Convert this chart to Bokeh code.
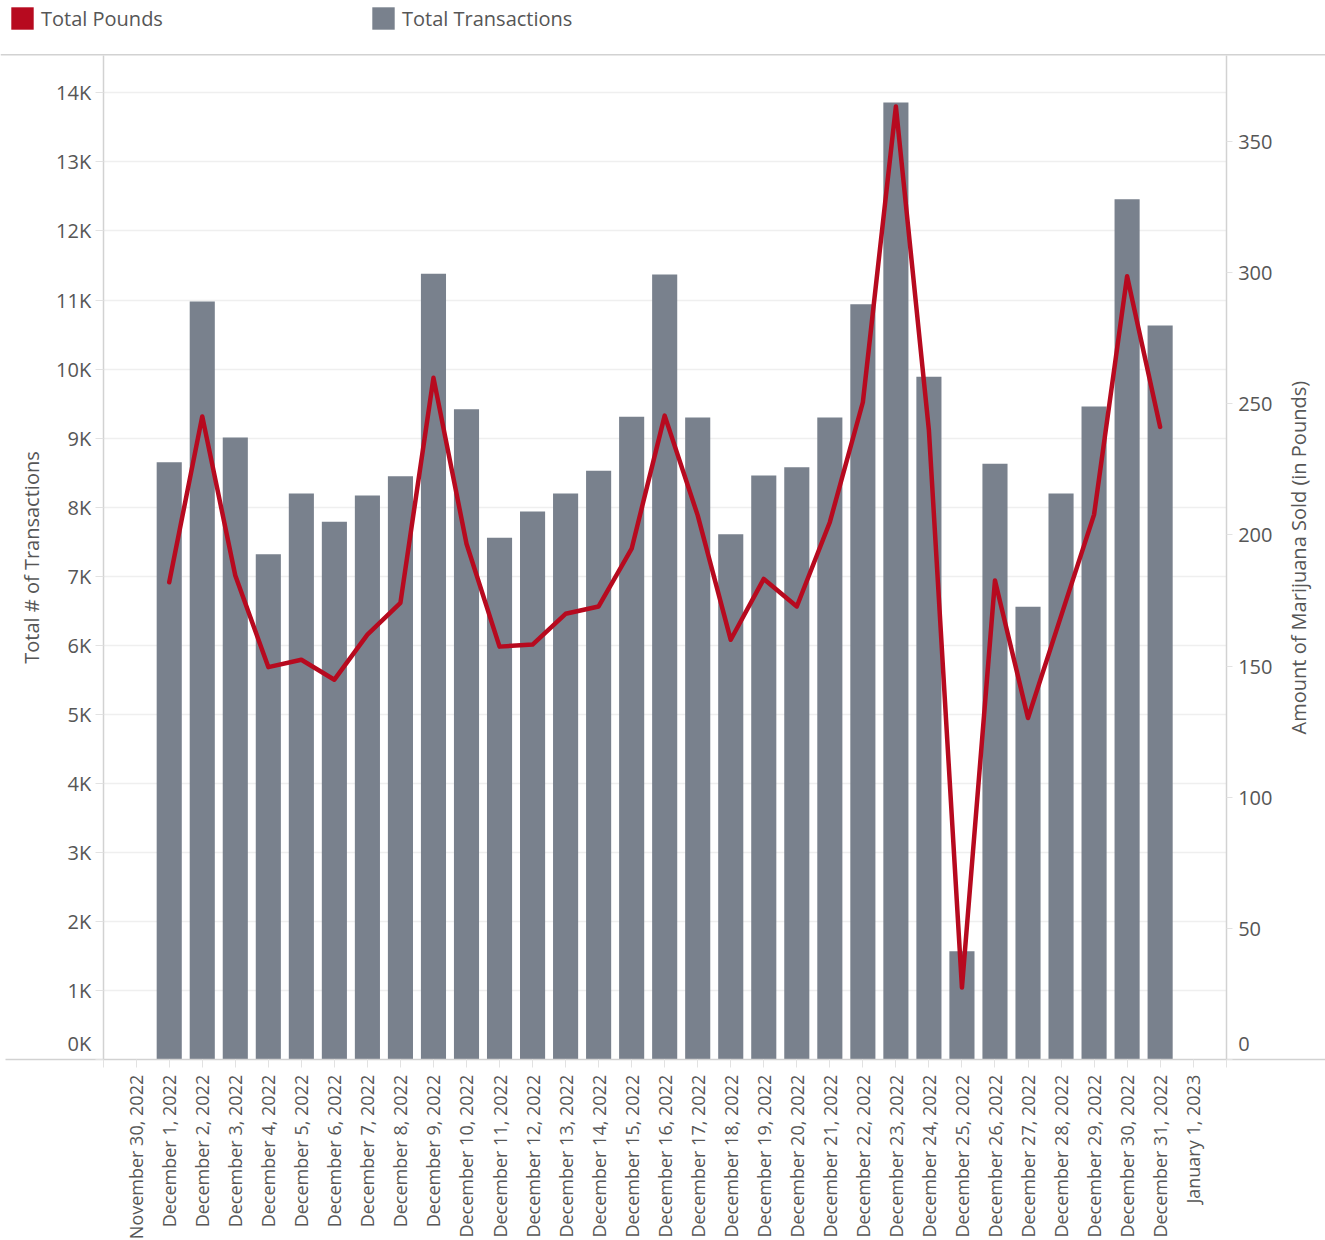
import math
from bokeh.plotting import figure
from bokeh.models import (LinearAxis, Range1d, FixedTicker, Legend, LegendItem,
                          Span, Label, Grid, ColumnDataSource)
from bokeh.embed import file_html
from bokeh.resources import INLINE

# ---------------- data ----------------
tick_labels = [
    "November 30, 2022",
    "December 1, 2022", "December 2, 2022", "December 3, 2022", "December 4, 2022",
    "December 5, 2022", "December 6, 2022", "December 7, 2022", "December 8, 2022",
    "December 9, 2022", "December 10, 2022", "December 11, 2022", "December 12, 2022",
    "December 13, 2022", "December 14, 2022", "December 15, 2022", "December 16, 2022",
    "December 17, 2022", "December 18, 2022", "December 19, 2022", "December 20, 2022",
    "December 21, 2022", "December 22, 2022", "December 23, 2022", "December 24, 2022",
    "December 25, 2022", "December 26, 2022", "December 27, 2022", "December 28, 2022",
    "December 29, 2022", "December 30, 2022", "December 31, 2022",
    "January 1, 2023",
]
# values for December 1 .. December 31
total_transactions = [
    8650, 10980, 9010, 7320, 8200, 7790, 8170, 8450, 11380, 9420,
    7560, 7940, 8200, 8530, 9310, 11370, 9300, 7610, 8460, 8580,
    9300, 10940, 13860, 9890, 1570, 8630, 6560, 8200, 9460, 12460,
    10630,
]
total_pounds = [
    181.9, 245.1, 184.5, 149.6, 152.4, 144.8, 162.0, 174.1, 259.8, 196.6,
    157.4, 158.2, 169.9, 172.7, 194.7, 245.4, 207.4, 160.0, 183.2, 172.7,
    204.8, 250.5, 363.2, 239.7, 27.5, 182.6, 130.2, 169.0, 207.7, 298.5,
    241.1,
]
left_ticks = [0, 1000, 2000, 3000, 4000, 5000, 6000, 7000, 8000, 9000,
              10000, 11000, 12000, 13000, 14000]
left_tick_labels = ["0K", "1K", "2K", "3K", "4K", "5K", "6K", "7K", "8K", "9K",
                    "10K", "11K", "12K", "13K", "14K"]
right_ticks = [0, 50, 100, 150, 200, 250, 300, 350]
series_names = ["Total Pounds", "Total Transactions"]
left_title = "Total # of Transactions"
right_title = "Amount of Marijuana Sold (in Pounds)"

# ---------------- layout / style ----------------
W, H = 1325, 1240
RED = "#B70A1F"
BAR = "#79818D"
AXIS_LINE = "#d2d2d2"
GRID = "#efefef"
TICK = "#e2e2e2"
TXT = "#565656"
FONT = "Open Sans"

# pixel geometry of the plotting pane (page pixels)
X0_PX, PX_PER_IDX = 135.7, 33.03       # centre of first category, category pitch
Y0_PX = 1059.3                          # baseline (value 0) of both y axes
PX_PER_T = 69.07 / 1000.0               # left axis scale
PX_PER_LB = 2.625                       # right axis scale
PANE_TOP_PX = 55.0


def px_to_x(px):
    return (px - X0_PX) / PX_PER_IDX


def py_to_left(py):
    return (Y0_PX - py) / PX_PER_T


def py_to_right(py):
    return (Y0_PX - py) / PX_PER_LB


n_dec = len(total_transactions)
x_pos = list(range(1, n_dec + 1))
src = ColumnDataSource(dict(x=x_pos, transactions=total_transactions, pounds=total_pounds))

x_first, x_last = -1, len(tick_labels)          # pane edges in category units
left_top = py_to_left(PANE_TOP_PX)
right_top = py_to_right(PANE_TOP_PX)

p = figure(width=W, height=H, output_backend="svg", toolbar_location=None,
           x_range=Range1d(px_to_x(0), px_to_x(W)),
           y_range=Range1d(py_to_left(H), py_to_left(0)),
           x_axis_type=None, y_axis_type=None, min_border=0)
p.extra_y_ranges = {"pounds": Range1d(py_to_right(H), py_to_right(0))}
p.outline_line_color = None
p.background_fill_color = "white"
p.border_fill_color = "white"

# ---- grid lines (only inside the pane) ----
use_grid = "cross_bounds" in Grid.properties()
if use_grid:
    g = Grid(dimension=1, ticker=FixedTicker(ticks=left_ticks[1:]),
             cross_bounds=(x_first, x_last), grid_line_color=GRID, grid_line_width=1.5)
    p.add_layout(g)
else:
    p.segment(x0=[x_first] * (len(left_ticks) - 1), x1=[x_last] * (len(left_ticks) - 1),
              y0=left_ticks[1:], y1=left_ticks[1:], line_color=GRID, line_width=1.5,
              level="underlay")

bars = p.vbar(x="x", top="transactions", width=0.76, source=src,
              fill_color=BAR, line_color=None)
line = p.line(x="x", y="pounds", source=src, y_range_name="pounds",
              line_color=RED, line_width=4.5, line_join="round", line_cap="round")
# zero-height proxy so the legend can show a red swatch
red_proxy = p.vbar(x=x_pos[:1], top=[0], width=0, fill_color=RED, line_color=None)

# ---- x axis ----
xa = LinearAxis(fixed_location=0, bounds=(px_to_x(5), px_to_x(W)),
                ticker=FixedTicker(ticks=list(range(x_first, x_last + 1))))
overrides = {x_first: "", x_last: ""}
for i, lab in enumerate(tick_labels):
    overrides[i] = lab
xa.major_label_overrides = overrides
xa.major_label_orientation = math.pi / 2
xa.major_label_text_font = FONT
xa.major_label_text_font_size = "18px"
xa.major_label_text_color = TXT
xa.major_tick_out = 8
xa.major_tick_in = 0
xa.major_label_standoff = 7
xa.minor_tick_line_color = None
xa.major_tick_line_color = TICK
xa.axis_line_color = AXIS_LINE
xa.axis_line_width = 1.5
p.add_layout(xa, "below")

# ---- left axis ----
ya = LinearAxis(fixed_location=x_first, bounds=(0, left_top),
                ticker=FixedTicker(ticks=left_ticks))
lov = {t: l for t, l in zip(left_ticks, left_tick_labels)}
lov[left_ticks[0]] = left_tick_labels[0] + "\n "
ya.major_label_overrides = lov
ya.axis_label = left_title
ya.axis_label_text_font = FONT
ya.axis_label_text_font_size = "20px"
ya.axis_label_text_font_style = "normal"
ya.axis_label_text_color = TXT
ya.axis_label_standoff = 8
ya.major_label_text_font = FONT
ya.major_label_text_font_size = "20px"
ya.major_label_text_color = TXT
ya.major_tick_out = 8
ya.major_tick_in = 0
ya.major_label_standoff = 4
ya.minor_tick_line_color = None
ya.major_tick_line_color = TICK
ya.axis_line_color = AXIS_LINE
ya.axis_line_width = 1.5
p.add_layout(ya, "left")

# ---- right axis ----
ra = LinearAxis(y_range_name="pounds", fixed_location=x_last, bounds=(0, right_top),
                ticker=FixedTicker(ticks=right_ticks))
ra.major_label_overrides = {right_ticks[0]: str(right_ticks[0]) + "\n "}
ra.major_label_text_font = FONT
ra.major_label_text_font_size = "20px"
ra.major_label_text_color = TXT
ra.major_tick_out = 6
ra.major_tick_in = 0
ra.major_label_standoff = 6
ra.minor_tick_line_color = None
ra.major_tick_line_color = TICK
ra.axis_line_color = AXIS_LINE
ra.axis_line_width = 1.5
p.add_layout(ra, "right")

# right axis title, reading bottom-to-top
p.add_layout(Label(x=px_to_x(1298), y=py_to_right((PANE_TOP_PX + Y0_PX) / 2),
                   y_range_name="pounds", text=right_title, angle=math.pi / 2,
                   text_align="center", text_baseline="middle",
                   text_font=FONT, text_font_size="20px", text_color=TXT))

# pane separator line under the legend
p.add_layout(Span(location=py_to_left(PANE_TOP_PX - 0.7), dimension="width",
                  line_color=AXIS_LINE, line_width=1.5))

# ---- legend ----
legend = Legend(items=[LegendItem(label=series_names[0], renderers=[red_proxy]),
                       LegendItem(label=series_names[1], renderers=[bars])],
                orientation="horizontal", location=(8, H - 32),
                glyph_width=28, glyph_height=28, label_standoff=5, label_width=328,
                spacing=0, padding=0, margin=0, border_line_color=None,
                background_fill_alpha=0, label_text_font=FONT,
                label_text_font_size="20px", label_text_color=TXT)
p.add_layout(legend, "center")

open("out.html", "w").write(file_html(p, INLINE))
